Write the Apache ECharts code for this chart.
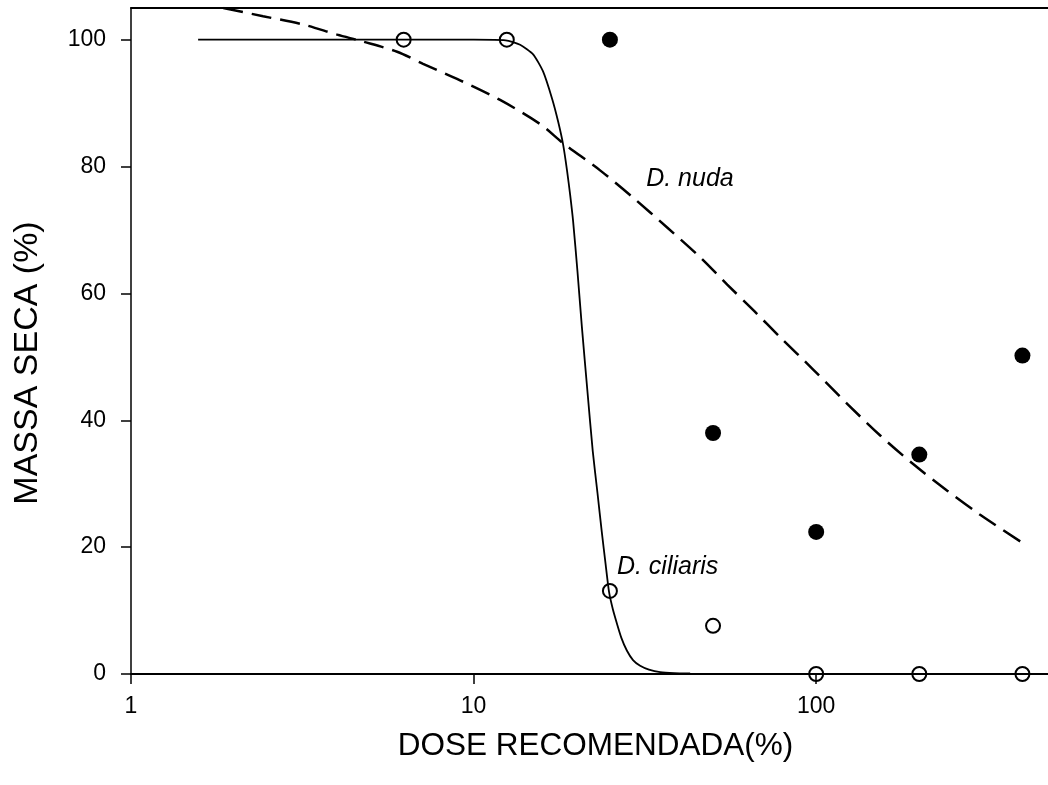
<!DOCTYPE html>
<html>
<head>
<meta charset="utf-8">
<script src="https://cdn.jsdelivr.net/npm/echarts@6/dist/echarts.min.js"></script>
<style>
  html, body { margin: 0; padding: 0; background: #fff; }
  #chart { width: 1048px; height: 785px; }
</style>
</head>
<body>
<div id="chart"></div>
<script>
// doses used in the assay (% of recommended dose)
var doses = [6.25, 12.5, 25, 50, 100, 200, 400]
// observed dry mass (%)
var ciliarisObs = [100, 100, 13.1, 7.6, 0, 0, 0]
var nudaObs = [null, null, 100, 38, 22.4, 34.6, 50.2]

// fitted curves as [dose, mass]
var ciliarisFit = [
    [1.57, 100], [3, 100], [6, 100], [10, 100], [12.4, 99.9], [13.67, 99.2],
    [14.92, 97.7], [15.95, 95], [16.95, 90.7], [17.65, 87.1], [18.25, 83.5],
    [18.75, 79.3], [19.13, 75.6], [19.52, 71.4], [20.1, 63.5], [20.7, 54.8],
    [21.5, 44.5], [22.28, 35.1], [23.0, 28.5], [23.67, 22.4], [24.3, 17.2],
    [24.86, 12.9], [25.5, 10.2], [26.19, 8.0], [27.0, 5.7], [28.01, 3.7],
    [29.2, 2.2], [30.63, 1.3], [32.5, 0.7], [35.04, 0.3], [38.5, 0.15], [42.87, 0.1]
]
var nudaFit = [
    [1.86, 105], [2.43, 103.7], [3.18, 102.4], [4.0, 100.8], [4.76, 99.7],
    [5.98, 98.1], [7.12, 96.2], [9.13, 93.6], [11.95, 90.5], [15.64, 86.7],
    [18.25, 83.7], [23.4, 79.4], [29.22, 75.1], [36.73, 70.4], [45.85, 65.7],
    [55, 61.4], [66, 57.2], [78.5, 53.1], [98, 48.0], [123.2, 42.6], [153.8, 37.6],
    [191.9, 33.1], [241.3, 28.9], [301.1, 25.1], [402, 20.6]
]

var xTicks = [1, 10, 100]
var yTicks = [0, 20, 40, 60, 80, 100]
var labels = [
    { name: 'D. nuda', value: [31.9, 78] },
    { name: 'D. ciliaris', value: [26.2, 16.8] }
]

var font = 'Liberation Sans, Arial, sans-serif'

function pairs(ys) {
    let out = []
    for (let i = 0; i < doses.length; i++) {
        if (ys[i] != null) out.push([doses[i], ys[i]])
    }
    return out
}

let myChart = echarts.init(document.getElementById('chart'))
let option = {
    animation: false,
    textStyle: { fontFamily: font, color: '#000' },
    grid: { left: 131, right: 0, top: 8, bottom: 111 },
    xAxis: [{
        type: 'log',
        logBase: 10,
        min: 1,
        max: 475,
        name: 'DOSE RECOMENDADA(%)',
        nameLocation: 'middle',
        nameGap: 56,
        nameTextStyle: { fontSize: 31.5, fontFamily: font, color: '#000', padding: [0, 0, 0, 12] },
        axisLine: { lineStyle: { color: '#000', width: 2 } },
        axisTick: { length: 10, customValues: xTicks, lineStyle: { color: '#000', width: 1.5 } },
        axisLabel: { customValues: xTicks, margin: 21, fontSize: 23, color: '#000', fontFamily: font },
        splitLine: { show: false },
        minorTick: { show: false }
    }, {
        // top frame line
        type: 'log',
        position: 'top',
        min: 1,
        max: 475,
        axisLine: { lineStyle: { color: '#000', width: 2 } },
        axisTick: { show: false },
        axisLabel: { show: false },
        splitLine: { show: false }
    }],
    yAxis: {
        type: 'value',
        min: 0,
        max: 105,
        interval: 20,
        name: 'MASSA SECA (%)',
        nameLocation: 'middle',
        nameGap: 86,
        nameTextStyle: { fontSize: 34, fontFamily: font, color: '#000', padding: [0, 44, 0, 0] },
        axisLine: { show: true, lineStyle: { color: '#000', width: 1.5 } },
        axisTick: { show: true, length: 10, customValues: yTicks, lineStyle: { color: '#000', width: 1.5 } },
        axisLabel: { customValues: yTicks, margin: 25, fontSize: 23, color: '#000', fontFamily: font },
        splitLine: { show: false }
    },
    series: [
        {
            name: 'ciliaris fit',
            type: 'line',
            data: ciliarisFit,
            showSymbol: false,
            smooth: 0.2,
            lineStyle: { color: '#000', width: 1.8 },
            z: 2
        }, {
            name: 'nuda fit',
            type: 'line',
            data: nudaFit,
            showSymbol: false,
            smooth: 0.3,
            lineStyle: { color: '#000', width: 2.5, type: [20, 9] },
            z: 2
        }, {
            name: 'D. nuda',
            type: 'scatter',
            data: pairs(nudaObs),
            symbol: 'circle',
            symbolSize: 16,
            itemStyle: { color: '#000', opacity: 1 },
            z: 3
        }, {
            name: 'D. ciliaris',
            type: 'scatter',
            data: pairs(ciliarisObs),
            symbol: 'circle',
            symbolSize: 14,
            itemStyle: { color: 'transparent', borderColor: '#000', borderWidth: 2, opacity: 1 },
            z: 4
        }, {
            name: 'labels',
            type: 'scatter',
            data: labels,
            symbolSize: 0,
            silent: true,
            itemStyle: { opacity: 1 },
            label: {
                show: true,
                position: 'right',
                distance: 0,
                formatter: p => p.name,
                fontSize: 25,
                fontStyle: 'italic',
                fontFamily: font,
                color: '#000'
            },
            z: 5
        }
    ]
}

myChart.setOption(option)
</script>
</body>
</html>
